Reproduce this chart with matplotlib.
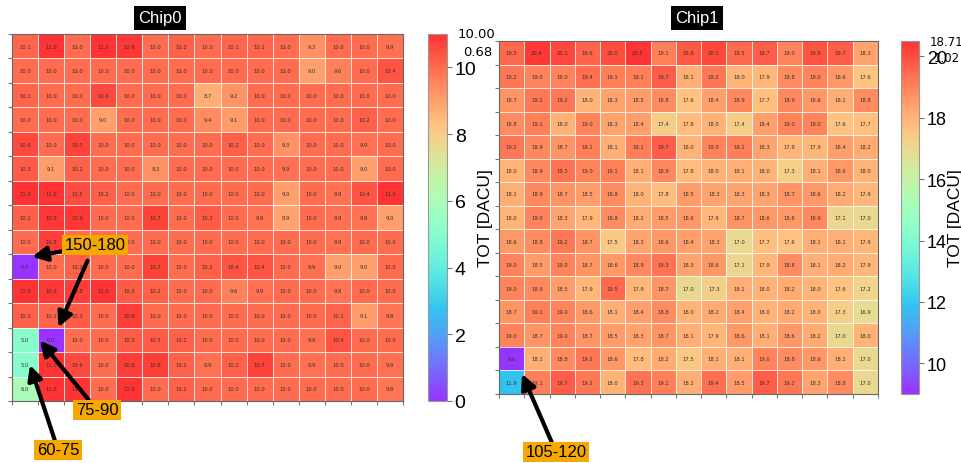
import numpy as np
import matplotlib.pyplot as plt

# TOT per pixel, 15 x 15, row 0 at the top
chip0 = np.array([
    [10.1, 11.0, 10.0, 11.0, 10.9, 10.0, 10.2, 10.0, 10.1, 10.1, 10.0, 9.3, 10.0, 10.0, 9.9],
    [10.0, 10.0, 10.0, 10.0, 10.0, 10.0, 10.0, 10.0, 10.0, 10.0, 10.0, 9.0, 9.6, 10.0, 10.4],
    [10.1, 10.0, 10.0, 10.6, 10.0, 10.0, 10.0, 8.7, 9.2, 10.0, 10.0, 10.0, 10.0, 10.0, 10.0],
    [10.0, 10.0, 10.0, 9.0, 10.0, 10.0, 10.0, 9.4, 9.1, 10.0, 10.0, 10.0, 10.0, 10.2, 10.0],
    [10.6, 10.0, 10.7, 10.0, 10.0, 10.0, 10.0, 10.0, 10.2, 10.0, 9.3, 10.0, 10.0, 9.9, 10.0],
    [10.3, 9.1, 10.2, 10.0, 10.0, 9.3, 10.0, 10.0, 10.0, 10.0, 9.9, 10.0, 10.0, 9.0, 10.0],
    [11.0, 11.0, 10.5, 10.2, 10.0, 10.0, 10.0, 10.0, 10.0, 10.0, 9.0, 10.0, 9.9, 10.4, 11.0],
    [10.2, 10.9, 10.9, 10.0, 10.0, 10.7, 10.0, 10.3, 10.0, 9.9, 8.9, 10.0, 9.9, 9.9, 9.0],
    [10.0, 10.8, 10.0, 10.0, 10.0, 10.0, 10.0, 10.0, 10.0, 10.0, 10.0, 10.0, 9.9, 10.0, 10.0],
    [0.0, 10.0, 10.2, 10.0, 10.0, 10.7, 10.0, 10.2, 10.4, 10.4, 10.0, 9.9, 9.0, 9.0, 10.0],
    [11.0, 10.9, 10.8, 11.0, 10.3, 10.2, 10.0, 10.0, 9.6, 9.9, 10.0, 10.0, 9.8, 10.0, 10.0],
    [10.2, 10.1, 10.3, 10.0, 10.8, 10.0, 10.0, 10.0, 10.0, 10.0, 10.0, 10.0, 10.1, 9.1, 9.8],
    [5.0, 0.0, 10.0, 10.0, 10.3, 10.3, 10.2, 10.0, 10.0, 10.0, 10.0, 9.9, 10.4, 10.0, 10.0],
    [5.0, 11.0, 10.6, 10.0, 10.8, 10.8, 10.2, 9.9, 10.2, 10.7, 10.0, 9.9, 10.0, 10.0, 9.9],
    [6.0, 11.0, 11.0, 10.0, 11.0, 10.0, 10.2, 10.0, 10.0, 10.0, 10.0, 10.0, 10.0, 10.0, 9.8],
])

chip1 = np.array([
    [19.5, 20.4, 20.1, 19.6, 20.0, 20.5, 19.1, 19.8, 20.1, 19.5, 19.7, 19.0, 19.9, 19.7, 18.3],
    [19.2, 19.0, 19.0, 19.4, 19.1, 19.1, 19.7, 18.1, 19.2, 18.0, 17.9, 18.8, 19.0, 18.6, 17.6],
    [18.7, 19.2, 19.2, 18.0, 18.3, 18.5, 18.8, 17.6, 18.4, 18.9, 17.7, 18.9, 18.6, 18.1, 18.8],
    [18.8, 19.1, 18.0, 19.0, 18.3, 18.4, 17.4, 17.8, 18.0, 17.4, 18.4, 19.0, 19.0, 17.6, 17.7],
    [19.2, 18.9, 18.7, 19.1, 18.1, 19.1, 19.7, 18.0, 19.0, 19.1, 18.3, 17.9, 17.9, 18.4, 18.2],
    [18.0, 18.9, 19.3, 19.0, 19.1, 18.1, 18.9, 17.8, 18.0, 18.1, 18.0, 17.3, 18.1, 18.6, 18.0],
    [18.1, 18.9, 18.7, 18.5, 18.8, 18.0, 17.8, 18.5, 18.3, 18.3, 18.3, 18.7, 18.6, 18.2, 17.9],
    [18.0, 19.0, 18.3, 17.9, 18.8, 18.2, 18.5, 18.6, 17.9, 18.7, 18.6, 18.6, 18.9, 17.1, 17.0],
    [18.6, 18.8, 19.2, 18.7, 17.5, 18.3, 18.6, 18.4, 18.3, 17.0, 17.7, 17.6, 18.1, 18.1, 17.9],
    [19.0, 18.5, 19.0, 18.7, 18.6, 18.9, 19.3, 18.3, 18.6, 17.1, 17.9, 18.8, 18.1, 18.2, 17.9],
    [19.0, 18.9, 18.5, 17.9, 19.5, 17.9, 18.7, 17.0, 17.3, 18.1, 18.0, 18.2, 18.0, 17.6, 17.2],
    [18.7, 19.1, 19.0, 18.6, 18.1, 18.4, 18.8, 18.0, 18.2, 18.4, 18.0, 18.2, 18.0, 17.3, 16.9],
    [19.0, 18.7, 19.0, 18.7, 18.5, 18.3, 18.7, 18.1, 17.9, 18.6, 18.1, 18.6, 18.2, 17.0, 18.0],
    [9.0, 18.1, 18.8, 19.2, 18.6, 17.8, 18.2, 17.5, 18.1, 18.1, 19.0, 18.8, 18.6, 18.1, 17.0],
    [11.9, 19.1, 19.7, 19.2, 18.0, 19.3, 19.1, 18.1, 19.4, 18.5, 19.7, 19.2, 18.3, 18.8, 17.0],
])

titles = ['Chip0', 'Chip1']
stat_texts = [('10.00', '0.68'), ('18.71', '1.02')]
cbar_ticks = [[0, 2, 4, 6, 8, 10], [10, 12, 14, 16, 18, 20]]

W, H = 962, 464


def px(x0, y0, x1, y1):
    return [x0 / W, 1 - y1 / H, (x1 - x0) / W, (y1 - y0) / H]


fig = plt.figure(figsize=(W / 100, H / 100), dpi=100)
axes = [fig.add_axes(px(12, 35, 403, 402)), fig.add_axes(px(499, 42, 878, 395))]
caxes = [fig.add_axes(px(428, 35, 447, 402)), fig.add_axes(px(901, 42, 919, 395))]
title_x = [160, 697]

for k, (ax, cax, data) in enumerate(zip(axes, caxes, [chip0, chip1])):
    mesh = ax.pcolormesh(data, cmap='rainbow', edgecolors='white', linewidth=0.6, alpha=0.8)
    ax.set_xlim(0, 15)
    ax.set_ylim(15, 0)
    for i in range(data.shape[0]):
        for j in range(data.shape[1]):
            ax.text(j + 0.5, i + 0.5, f'{data[i, j]:.1f}', ha='center', va='center',
                    fontsize=3.8, color='#333333')
    ax.set_xticks(np.arange(16))
    ax.set_yticks(np.arange(16))
    ax.tick_params(length=3, color='#777777', labelleft=False, labelbottom=False)
    for s in ax.spines.values():
        s.set_color('#666666')

    cb = fig.colorbar(mesh, cax=cax)
    cb.set_ticks(cbar_ticks[k])
    cb.ax.tick_params(labelsize=14 if k == 0 else 13, color='#777777', pad=2)
    for t in cb.ax.get_yticklabels():
        t.set_family('Liberation Sans')
    cb.outline.set_edgecolor('#999999')
    cb.set_label('TOT [DACU]', fontsize=12.5, family='Liberation Sans', labelpad=1)

    fig.text(title_x[k] / W, 1 - 19 / H, titles[k], color='white', fontsize=12,
             family=['Liberation Sans Narrow', 'Liberation Sans'], ha='center', va='center',
             bbox=dict(boxstyle='square,pad=0.25', fc='black', ec='none'))

# mean / sigma texts over the colorbars
fig.text(458 / W, 1 - 35 / H, stat_texts[0][0], fontsize=9.5, va='center')
fig.text(463 / W, 1 - 53 / H, stat_texts[0][1], fontsize=9.5, va='center')
fig.text(930 / W, 1 - 42 / H, stat_texts[1][0], fontsize=8.5, va='center')
fig.text(934 / W, 1 - 59 / H, stat_texts[1][1], fontsize=8.5, va='center')

box = dict(boxstyle='square,pad=0.15', fc='#f5a800', ec='none')
arrow = dict(arrowstyle='-|>', color='black', lw=3, mutation_scale=22, shrinkA=0, shrinkB=0)
lab = dict(textcoords='figure fraction', ha='center', va='center', fontsize=12,
           family='Liberation Sans', bbox=box, arrowprops=arrow, annotation_clip=False)

ax0, ax1 = axes
ax0.annotate('', xy=(1.78, 11.99), xytext=(90 / W, 1 - 256 / H), **lab)
ax0.annotate('150-180', xy=(0.77, 9.11), xytext=(95 / W, 1 - 246 / H), **lab)
ax0.annotate('75-90', xy=(1.07, 12.53), xytext=(97 / W, 1 - 411 / H), **lab)
ax0.annotate('60-75', xy=(0.69, 13.53), xytext=(58 / W, 1 - 451 / H), **lab)
ax1.annotate('105-120', xy=(0.91, 14.15), xytext=(556 / W, 1 - 453 / H), **lab)

fig.savefig('out.png', dpi=100)
